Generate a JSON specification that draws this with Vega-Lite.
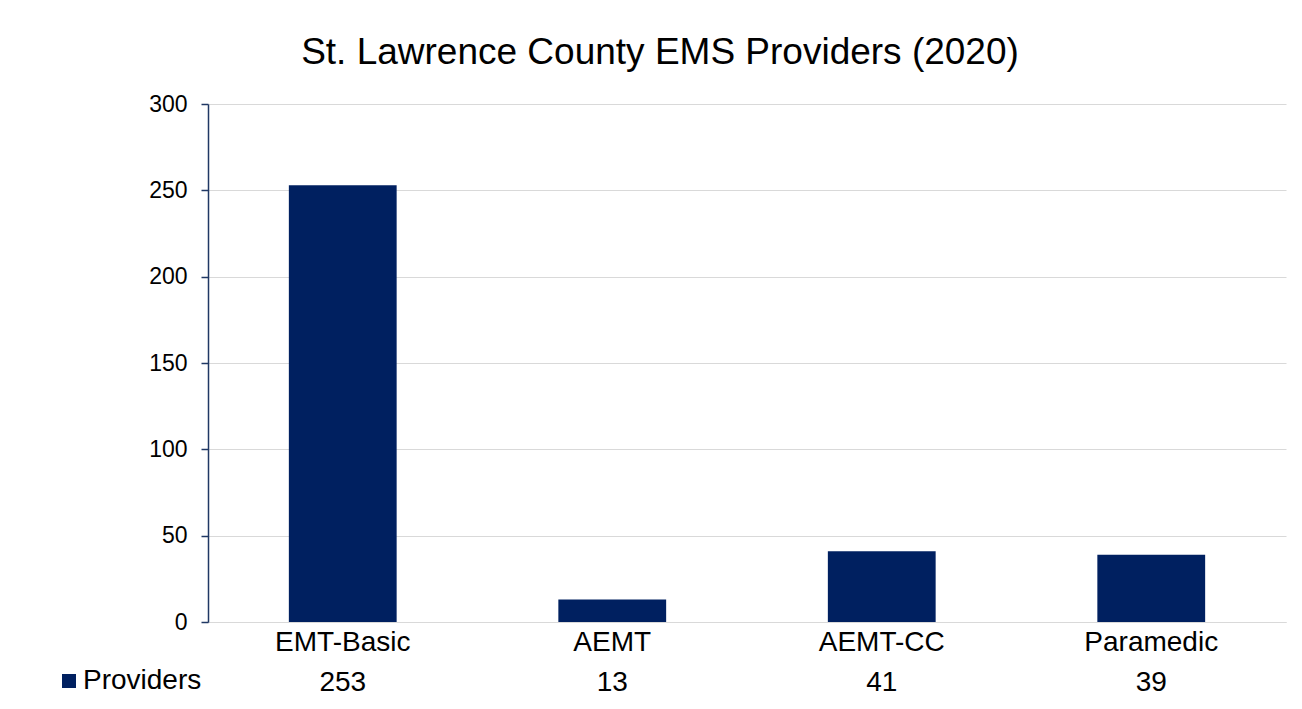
{
  "$schema": "https://vega.github.io/schema/vega-lite/v6.json",
  "autosize": {"type": "none"},
  "width": 1078,
  "height": 518,
  "padding": {"left": 208, "top": 104, "right": 16, "bottom": 87},
  "background": "white",
  "title": {
    "text": "St. Lawrence County EMS Providers (2020)",
    "fontSize": 37,
    "font": "Liberation Sans",
    "fontWeight": "normal",
    "color": "#000000",
    "anchor": "middle",
    "dx": -87,
    "dy": 48,
    "baseline": "alphabetic",
    "offset": 40
  },
  "data": {
    "values": [
      {"category": "EMT-Basic", "providers": 253, "series": "Providers"},
      {"category": "AEMT", "providers": 13, "series": "Providers"},
      {"category": "AEMT-CC", "providers": 41, "series": "Providers"},
      {"category": "Paramedic", "providers": 39, "series": "Providers"}
    ]
  },
  "transform": [
    {"calculate": "datum.category + '|' + datum.providers", "as": "axisLabel"}
  ],
  "mark": {"type": "bar"},
  "encoding": {
    "x": {
      "field": "axisLabel",
      "type": "nominal",
      "sort": null,
      "scale": {"paddingInner": 0.6, "paddingOuter": 0.3},
      "axis": {
        "title": null,
        "labelExpr": "split(datum.label, '|')",
        "labelAngle": 0,
        "labelFont": "Liberation Sans",
        "labelFontSize": 28,
        "labelColor": "#000000",
        "labelLineHeight": 40,
        "labelPadding": 6,
        "ticks": false,
        "domainColor": "#d9d9d9",
        "domainWidth": 1
      }
    },
    "y": {
      "field": "providers",
      "type": "quantitative",
      "scale": {"domain": [0, 300], "nice": false},
      "axis": {
        "title": null,
        "values": [0, 50, 100, 150, 200, 250, 300],
        "labelFont": "Liberation Sans",
        "labelFontSize": 23,
        "labelColor": "#000000",
        "labelPadding": 14,
        "tickSize": 7,
        "tickColor": "#203864",
        "tickWidth": 1.5,
        "domainColor": "#203864",
        "domainWidth": 1.5,
        "gridColor": "#d9d9d9",
        "gridWidth": 1
      }
    },
    "color": {
      "field": "series",
      "type": "nominal",
      "scale": {"range": ["#002060"]},
      "legend": {
        "orient": "none",
        "legendX": -153,
        "legendY": 563,
        "title": null,
        "symbolType": "square",
        "symbolSize": 196,
        "symbolStrokeWidth": 0,
        "labelFont": "Liberation Sans",
        "labelFontSize": 28,
        "labelColor": "#000000",
        "labelOffset": 0
      }
    }
  },
  "config": {"view": {"stroke": null}}
}
